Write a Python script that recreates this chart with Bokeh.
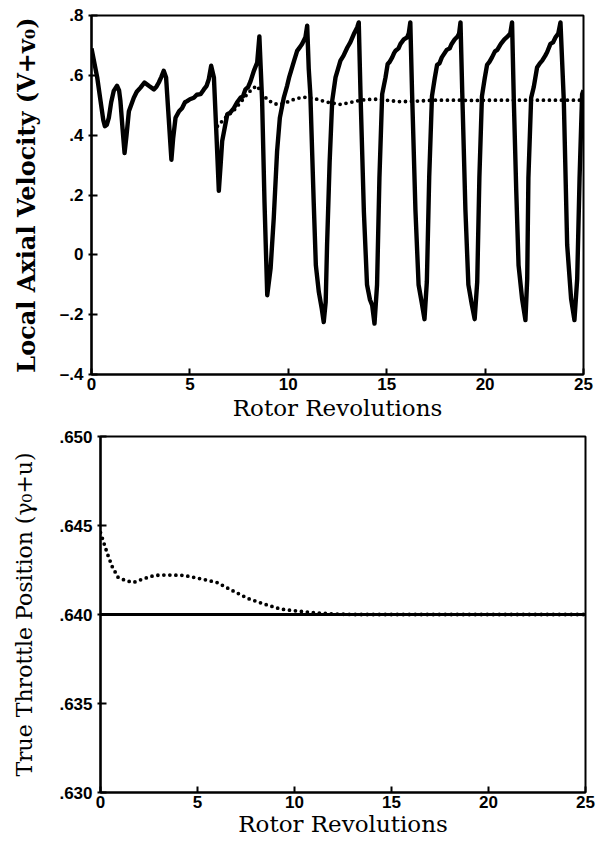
from bokeh.plotting import figure
from bokeh.layouts import column, row
from bokeh.models import Range1d, FixedTicker, Spacer
from bokeh.embed import file_html
from bokeh.resources import INLINE

# ---------------- data ----------------
# Top panel: local axial velocity, solid = uncontrolled, dotted = controlled
rev_solid = [
    0.0, 0.15, 0.29, 0.46, 0.6, 0.68, 0.78, 0.88, 1.0, 1.13, 1.3, 1.4, 1.47, 1.58, 1.68, 1.78,
    1.9, 2.15, 2.3, 2.49, 2.69, 2.91, 3.17, 3.3, 3.42, 3.55, 3.67, 3.79, 3.9, 4.06, 4.15, 4.27,
    4.45, 4.6, 4.75, 4.86, 5.0, 5.2, 5.35, 5.54, 5.71, 5.85, 5.96, 6.08, 6.22, 6.35, 6.47, 6.56,
    6.64, 6.9, 7.05, 7.23, 7.4, 7.57, 7.7, 7.82, 7.95, 8.08, 8.25, 8.42, 8.53, 8.67, 8.79, 8.93,
    9.1, 9.26, 9.43, 9.57, 9.77, 9.94, 10.05, 10.19, 10.3, 10.45, 10.6, 10.7, 10.87, 10.96,
    11.04, 11.12, 11.29, 11.4, 11.55, 11.7, 11.8, 11.9, 11.97, 12.1, 12.23, 12.4, 12.52, 12.65,
    12.8, 13.0, 13.15, 13.33, 13.5, 13.58,
    13.67, 13.84, 14.0, 14.15, 14.26, 14.38, 14.51, 14.63, 14.77, 14.94, 15.05, 15.15, 15.28,
    15.38, 15.45, 15.6, 15.7, 15.87, 16.04, 16.12, 16.2,
    16.29, 16.46, 16.62, 16.78, 16.92, 17.04, 17.16, 17.3, 17.44, 17.56, 17.68, 17.8, 17.95,
    18.05, 18.2, 18.3, 18.45, 18.6, 18.68, 18.75,
    18.84, 19.0, 19.15, 19.32, 19.47, 19.6, 19.71, 19.84, 19.98, 20.1, 20.22, 20.35, 20.5,
    20.62, 20.8, 20.98, 21.15, 21.28, 21.37,
    21.46, 21.58, 21.7, 21.88, 22.05, 22.14, 22.2, 22.34, 22.47, 22.64, 22.78, 22.9, 23.05,
    23.15, 23.32, 23.45, 23.58, 23.72, 23.83,
    24.0, 24.17, 24.37, 24.54, 24.68, 24.8, 24.93, 25.0,
]
vel_solid = [
    0.69, 0.64, 0.593, 0.514, 0.45, 0.43, 0.435, 0.458, 0.51, 0.548, 0.565, 0.55, 0.514, 0.42, 0.34, 0.40,
    0.48, 0.525, 0.545, 0.559, 0.576, 0.565, 0.553, 0.562, 0.576, 0.595, 0.615, 0.593, 0.48, 0.318, 0.39, 0.458,
    0.48, 0.49, 0.51, 0.514, 0.52, 0.525, 0.535, 0.537, 0.553, 0.565, 0.587, 0.632, 0.593, 0.40, 0.214, 0.30,
    0.38, 0.47, 0.475, 0.49, 0.51, 0.525, 0.53, 0.553, 0.56, 0.58, 0.615, 0.643, 0.73, 0.514, 0.178, -0.135,
    -0.046, 0.122, 0.346, 0.458, 0.525, 0.565, 0.595, 0.626, 0.65, 0.682, 0.695, 0.705, 0.727, 0.766,
    0.62, 0.537, 0.178, -0.035, -0.124, -0.18, -0.225, -0.158, 0.033, 0.31, 0.514, 0.593, 0.62, 0.649,
    0.665, 0.693, 0.71, 0.738, 0.76, 0.777,
    0.537, 0.145, -0.1, -0.15, -0.168, -0.23, -0.1, 0.256, 0.537, 0.593, 0.638, 0.645, 0.66,
    0.675, 0.682, 0.69, 0.705, 0.72, 0.727, 0.74, 0.777,
    0.54, 0.15, -0.10, -0.16, -0.215, -0.09, 0.26, 0.53, 0.59, 0.635, 0.64, 0.66, 0.675,
    0.685, 0.69, 0.705, 0.72, 0.73, 0.74, 0.777,
    0.54, 0.15, -0.10, -0.165, -0.215, -0.09, 0.26, 0.53, 0.59, 0.635, 0.645, 0.66, 0.68,
    0.685, 0.705, 0.72, 0.73, 0.74, 0.777,
    0.514, 0.22, -0.035, -0.147, -0.218, -0.08, 0.256, 0.525, 0.56, 0.626, 0.64, 0.649, 0.665,
    0.677, 0.705, 0.71, 0.727, 0.74, 0.777,
    0.514, 0.033, -0.147, -0.218, -0.08, 0.256, 0.537, 0.55,
]
rev_dotted = [
    6.4, 6.64, 6.9, 7.2, 7.45, 7.7, 7.95, 8.2, 8.42, 8.6, 8.92, 9.2, 9.43, 9.7, 10.0, 10.3,
    10.6, 10.96, 11.46, 12.0, 12.65, 13.2, 13.67, 14.2, 14.68, 15.2, 15.7, 16.54, 17.5, 18.5,
    19.5, 20.5, 21.5, 22.5, 23.5, 24.5, 25.0,
]
vel_dotted = [
    0.43, 0.447, 0.465, 0.48, 0.50, 0.52, 0.54, 0.557, 0.565, 0.545, 0.52, 0.508, 0.503, 0.505, 0.512, 0.52,
    0.525, 0.527, 0.52, 0.51, 0.503, 0.51, 0.517, 0.52, 0.52, 0.515, 0.512, 0.514, 0.517, 0.517,
    0.516, 0.517, 0.517, 0.517, 0.517, 0.517, 0.517,
]

# Bottom panel: true throttle position
rev_thr_solid = [0.0, 25.0]
thr_solid = [0.640, 0.640]
rev_thr_dotted = [
    0.0, 0.15, 0.36, 0.6, 0.9, 1.3, 1.7, 2.2, 2.8, 3.4, 4.3, 5.2, 6.0, 6.7, 7.6, 8.4, 9.3,
    10.1, 11.0, 12.0, 13.0, 15.0, 25.0,
]
thr_dotted = [
    0.6446, 0.6441, 0.6434, 0.6427, 0.6421, 0.6419, 0.6418, 0.6420, 0.6422, 0.64222, 0.6422,
    0.6420, 0.6418, 0.6414, 0.6409, 0.6406, 0.6403, 0.6402, 0.6401, 0.64003, 0.6400, 0.6400, 0.6400,
]

x_ticks = [0, 5, 10, 15, 20, 25]
top_y_ticks = [-0.4, -0.2, 0.0, 0.2, 0.4, 0.6, 0.8]
top_y_labels = ["\u2013.4", "\u2013.2", "0", ".2", ".4", ".6", ".8"]
bot_y_ticks = [0.630, 0.635, 0.640, 0.645, 0.650]
bot_y_labels = [".630", ".635", ".640", ".645", ".650"]

TICK_FONT = "Liberation Sans"
LABEL_FONT = "DejaVu Serif"


def style(p, y_ticks, y_labels, y_label_standoff, x_label_size, x_tick_standoff, x_label_standoff):
    p.grid.visible = False
    p.outline_line_color = "black"
    p.outline_line_width = 2
    p.background_fill_color = "white"
    p.border_fill_color = "white"
    for ax in (p.xaxis[0], p.yaxis[0]):
        ax.axis_line_width = 2.2
        ax.axis_line_color = "black"
        ax.major_tick_line_width = 2
        ax.major_tick_line_color = "black"
        ax.minor_tick_line_color = None
        ax.major_label_text_font = TICK_FONT
        ax.major_label_text_font_style = "bold"
        ax.major_label_text_font_size = "17px"
        ax.major_label_text_color = "black"
        ax.axis_label_text_font = LABEL_FONT
        ax.axis_label_text_color = "black"
    p.xaxis[0].ticker = FixedTicker(ticks=x_ticks)
    p.xaxis[0].major_tick_in = 6
    p.xaxis[0].major_tick_out = 0
    p.xaxis[0].major_label_standoff = x_tick_standoff
    p.xaxis[0].axis_label = "Rotor Revolutions"
    p.xaxis[0].axis_label_text_font_size = x_label_size
    p.xaxis[0].axis_label_text_font_style = "normal"
    p.xaxis[0].axis_label_standoff = x_label_standoff
    p.yaxis[0].ticker = FixedTicker(ticks=y_ticks)
    p.yaxis[0].major_label_overrides = {t: l for t, l in zip(y_ticks, y_labels)}
    p.yaxis[0].major_tick_in = 6
    p.yaxis[0].major_tick_out = 3
    p.yaxis[0].major_label_standoff = 5
    p.yaxis[0].axis_label_standoff = y_label_standoff


# ---------------- top figure ----------------
p1 = figure(width=598, height=426, output_backend="svg", toolbar_location=None,
            x_range=Range1d(0, 25), y_range=Range1d(-0.4, 0.8),
            min_border_left=91, min_border_right=15, min_border_top=15, min_border_bottom=52)
style(p1, top_y_ticks, top_y_labels, 16, "23px", 3, 2)
p1.yaxis[0].axis_label = "Local Axial Velocity (V+v\u2080)"
p1.yaxis[0].axis_label_text_font_size = "24px"
p1.yaxis[0].axis_label_text_font_style = "bold"

p1.line(rev_solid, vel_solid, line_color="black", line_width=4.4, line_join="round")
p1.line(rev_dotted, vel_dotted, line_color="black", line_width=3.8, line_dash="0 6",
        line_cap="round")

# ---------------- bottom figure ----------------
p2 = figure(width=589, height=416, output_backend="svg", toolbar_location=None,
            x_range=Range1d(0, 25), y_range=Range1d(0.630, 0.650),
            min_border_left=91, min_border_right=13, min_border_top=10, min_border_bottom=50)
style(p2, bot_y_ticks, bot_y_labels, 19, "23px", 3, 0)
p2.yaxis[0].axis_label = "True Throttle Position (\u03b3\u2080+u)"
p2.yaxis[0].axis_label_text_font_size = "22px"
p2.yaxis[0].axis_label_text_font_style = "normal"

p2.line(rev_thr_solid, thr_solid, line_color="black", line_width=3.2)
p2.line(rev_thr_dotted, thr_dotted, line_color="black", line_width=3.8, line_dash="0 6",
        line_cap="round")

layout = column(p1, row(Spacer(width=9, height=416), p2, spacing=0), spacing=0)
open("out.html", "w").write(file_html(layout, INLINE))
